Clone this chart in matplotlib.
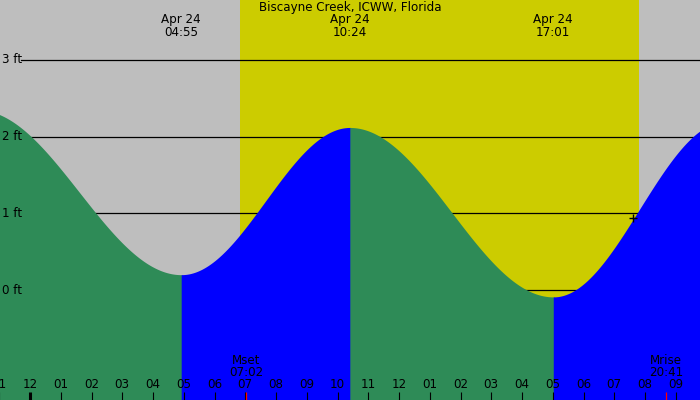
import numpy as np
import matplotlib
matplotlib.use("Agg")
import matplotlib.pyplot as plt

TITLE = "Biscayne Creek, ICWW, Florida"
DATE = "Apr 24"

# tide extremes, hours from midnight Apr 24, height in ft
EXT_T = [-1.71, 4.917, 10.40, 17.017, 22.63]
EXT_H = [2.35, 0.20, 2.12, -0.09, 2.20]
EXT_LABELS = [None, "04:55", "10:24", "17:01", None]

SUNRISE, SUNSET = 6.83, 19.80
MOON_T = [7.033, 20.683]
MOON_NAMES = ["Mset", "Mrise"]
MOON_LABELS = ["07:02", "20:41"]

HOURS = list(range(-1, 22))
HOUR_LABELS = ["%02d" % (h % 12 if h % 12 else 12) for h in HOURS]
FT_LEVELS = [0, 1, 2, 3]
MARK_T, MARK_H = 19.62, 0.935

GRAY, YELLOW = "#bebebe", "#cccc00"
GREEN, BLUE = "#2e8b57", "#0000ff"
FS = 8.6

# pixel mapping: midnight at x=30, 30.75 px/h; 0 ft at y=290, 76.67 px/ft
XL = (-30 / 30.75, 670 / 30.75)
YL = (-110 / 76.67, 290 / 76.67)


def tide_segment(t0, h0, t1, h1, n=200, pad=0.0):
    t = np.linspace(t0, t1 + pad, n)
    ph = (t - t0) / (t1 - t0) * np.pi
    return t, h1 + (h0 - h1) * (1 + np.cos(ph)) / 2


fig = plt.figure(figsize=(7, 4), dpi=100)
ax = fig.add_axes([0, 0, 1, 1])
ax.set_xlim(*XL)
ax.set_ylim(*YL)
ax.axis("off")
fig.patch.set_facecolor(GRAY)

ax.axvspan(SUNRISE, SUNSET, color=YELLOW, lw=0, zorder=0)

for lv in FT_LEVELS:
    ax.axhline(lv, xmin=21 / 700, xmax=1, color="black", lw=0.9, zorder=1)
    ax.text(XL[0] + 2 / 30.75, lv, f"{lv} ft", fontsize=FS, ha="left", va="center", zorder=4)

for i in range(len(EXT_T) - 1):
    t, h = tide_segment(EXT_T[i], EXT_H[i], EXT_T[i + 1], EXT_H[i + 1], pad=0.03)
    col = GREEN if EXT_H[i + 1] < EXT_H[i] else BLUE
    ax.fill_between(t, YL[0], h, color=col, lw=0, zorder=2)

ax.plot([MARK_T], [MARK_H], marker="+", color="black", ms=6, mew=1, zorder=3)

ax.text(0.5, 1 - 7.5 / 400, TITLE, fontsize=FS, ha="center", va="center", transform=ax.transAxes)
tr = ax.get_xaxis_transform()
for t, lab in zip(EXT_T, EXT_LABELS):
    if lab is None:
        continue
    ax.text(t, 1 - 20 / 400, DATE, fontsize=FS, ha="center", va="center", transform=tr)
    ax.text(t, 1 - 32 / 400, lab, fontsize=FS, ha="center", va="center", transform=tr)

for h, lab in zip(HOURS, HOUR_LABELS):
    ax.text(h, 1 - 385 / 400, lab, fontsize=FS, ha="center", va="center", transform=tr, zorder=4)
    lw = 2.2 if h == 0 else 0.8
    ax.plot([h, h], [0, 8 / 400], color="black", lw=lw, transform=tr, zorder=4,
            solid_capstyle="butt")

for t, name, lab in zip(MOON_T, MOON_NAMES, MOON_LABELS):
    ax.plot([t, t], [0, 8 / 400], color="red", lw=0.9, transform=tr, zorder=5,
            solid_capstyle="butt")
    ax.text(t, 1 - 361 / 400, name, fontsize=FS, ha="center", va="center", transform=tr, zorder=4)
    ax.text(t, 1 - 373 / 400, lab, fontsize=FS, ha="center", va="center", transform=tr, zorder=4)

fig.savefig("out.png", dpi=100, facecolor=GRAY)
